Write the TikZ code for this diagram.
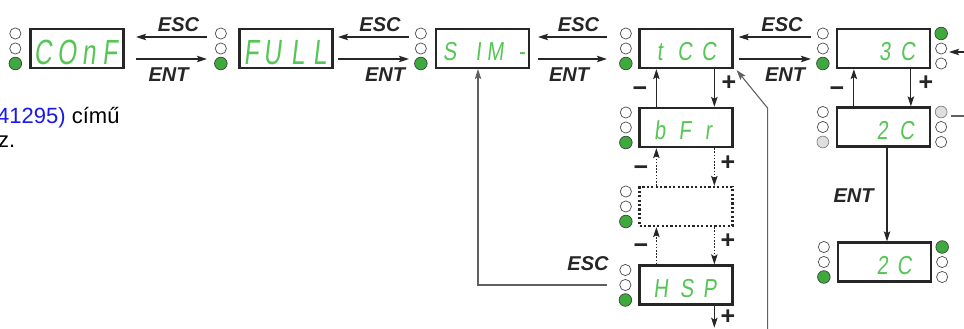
\documentclass[tikz,border=0pt]{standalone}
\usepackage{fontspec}
\setmainfont{Liberation Sans}
\newfontfamily\segfont[FakeSlant=0.12,FakeStretch=0.78]{Liberation Sans}
\newfontfamily\segfontL[FakeSlant=0.12,FakeStretch=0.7]{Liberation Sans}
\usetikzlibrary{arrows.meta,calc}
\definecolor{segg}{RGB}{84,198,84}
\definecolor{ledg}{RGB}{62,170,62}
\definecolor{boxc}{RGB}{38,38,38}
\definecolor{linkc}{RGB}{25,25,235}
\definecolor{greyl}{RGB}{96,96,96}
\newcommand\sgat[2]{\makebox[0pt][l]{\hspace{#1}\makebox[0pt][c]{#2}}}
\newcommand\ledcol[5]{%
  \path[#3] ($(#1)+(#2,-15)$) circle;
  \path[#4] ($(#1)+(#2,0)$) circle;
  \path[#5] ($(#1)+(#2,15)$) circle;}
\begin{document}
\begin{tikzpicture}[x=1pt,y=-1pt,
  disp/.style={draw=boxc, line width=2.3pt, minimum width=93pt, minimum height=39pt, inner sep=0pt},
  dotbox/.style={dash pattern=on 2.2pt off 2.2pt},
  segS/.style={text=segg, font=\segfont\fontsize{26}{26}\selectfont, inner sep=0pt, anchor=base west},
  segL/.style={text=segg, font=\segfontL\fontsize{35}{35}\selectfont, inner sep=0pt, anchor=base west},
  lbl/.style={font=\bfseries\itshape\fontsize{20}{20}\selectfont, text=boxc, inner sep=0pt},
  pm/.style={font=\bfseries\fontsize{25}{25}\selectfont, text=boxc, inner sep=0pt},
  arr/.style={draw=boxc, line width=1.1pt, -{Stealth[length=10pt,width=6.5pt,inset=2pt]}},
  darr/.style={arr, dash pattern=on 1.6pt off 1.6pt},
  garr/.style={arr, draw=greyl},
  gline/.style={draw=greyl, line width=1.1pt},
  ledoff/.style={draw=black!70, fill=white, line width=0.7pt, radius=5.6pt},
  ledon/.style={draw=black!75, fill=ledg, line width=0.7pt, radius=6.3pt},
  ledgray/.style={draw=black!50, fill=black!13, line width=0.7pt, radius=5.9pt},
  txt/.style={anchor=base west, inner sep=0pt, font=\fontsize{22}{24}\selectfont}]
\clip (0,0) rectangle (964,329);

% left text
\node[txt] (txt1) at (-3,123) {\textcolor{linkc}{41295)} című};
\node[txt] (txt2) at (-2,147) {z.};

% display boxes
\node[disp] (CONF) at (77,48.5) {};
\node[disp] (FULL) at (286,48.5) {};
\node[disp] (SIM) at (482.5,48.5) {};
\node[disp] (TCC) at (686,48.5) {};
\node[disp] (C3) at (883.5,48.5) {};
\node[disp] (C2a) at (883.5,127) {};
\node[disp] (BFR) at (686,127.5) {};
\node[disp,dotbox] (DOT) at (686,206.5) {};
\node[disp] (HSP) at (686,285) {};
\node[disp] (C2b) at (884.5,262) {};

% display texts
\node[segL] (tCONF) at ($(CONF.center)+(0,16.5)$) {\sgat{-35pt}{C}\sgat{-11pt}{O}\sgat{11pt}{n}\sgat{32pt}{F}};
\node[segL] (tFULL) at ($(FULL.center)+(0,16.5)$) {\sgat{-35.5pt}{F}\sgat{-14.5pt}{U}\sgat{11pt}{L}\sgat{33pt}{L}};
\node[segS] (tSIM) at ($(SIM.center)+(0,12)$) {\sgat{-33.5pt}{S}\sgat{-5pt}{I}\sgat{12pt}{M}\sgat{38.5pt}{-}};
\node[segS] (tTCC) at ($(TCC.center)+(0,12)$) {\sgat{-27pt}{t}\sgat{-2pt}{C}\sgat{22pt}{C}};
\node[segS] (tC3) at ($(C3.center)+(0,12)$) {\sgat{0.5pt}{3}\sgat{23.5pt}{C}};
\node[segS] (tC2a) at ($(C2a.center)+(0,12)$) {\sgat{-2pt}{2}\sgat{22.5pt}{C}};
\node[segS] (tBFR) at ($(BFR.center)+(0,12)$) {\sgat{-27pt}{b}\sgat{-2pt}{F}\sgat{21.5pt}{r}};
\node[segS] (tHSP) at ($(HSP.center)+(0,12)$) {\sgat{-26pt}{H}\sgat{0pt}{S}\sgat{23pt}{P}};
\node[segS] (tC2b) at ($(C2b.center)+(0,12)$) {\sgat{-3pt}{2}\sgat{19pt}{C}};

% LEDs
\ledcol{CONF.west}{-14}{ledoff}{ledoff}{ledon}
\ledcol{FULL.west}{-17.5}{ledoff}{ledoff}{ledon}
\ledcol{SIM.west}{-14}{ledoff}{ledoff}{ledon}
\ledcol{TCC.west}{-12.5}{ledoff}{ledoff}{ledon}
\ledcol{C3.west}{-13}{ledoff}{ledoff}{ledon}
\ledcol{C3.east}{10}{ledon}{ledoff}{ledoff}
\ledcol{C2a.west}{-13}{ledoff}{ledoff}{ledgray}
\ledcol{C2a.east}{10}{ledgray}{ledoff}{ledoff}
\ledcol{BFR.west}{-12.5}{ledoff}{ledoff}{ledon}
\ledcol{DOT.west}{-12.5}{ledoff}{ledoff}{ledon}
\ledcol{HSP.west}{-13}{ledoff}{ledoff}{ledon}
\ledcol{C2b.west}{-13}{ledoff}{ledoff}{ledon}
\ledcol{C2b.east}{10}{ledon}{ledoff}{ledoff}

% horizontal ESC / ENT arrows
\draw[arr] ($(FULL.west)+(-31.5,-11.5)$) -- ($(CONF.east)+(11.5,-11.5)$);
\draw[arr] ($(CONF.east)+(11.5,10.5)$) -- ($(FULL.west)+(-31.5,10.5)$);
\draw[arr] ($(SIM.west)+(-26,-11.5)$) -- ($(FULL.east)+(4.5,-11.5)$);
\draw[arr] ($(FULL.east)+(4.5,10.5)$) -- ($(SIM.west)+(-26,10.5)$);
\draw[arr] ($(TCC.west)+(-31.5,-11.5)$) -- ($(SIM.east)+(8,-11.5)$);
\draw[arr] ($(SIM.east)+(8,10.5)$) -- ($(TCC.west)+(-31.5,10.5)$);
\draw[arr] ($(C3.west)+(-25,-11.5)$) -- ($(TCC.east)+(5,-11.5)$);
\draw[arr] ($(TCC.east)+(5,10.5)$) -- ($(C3.west)+(-25,10.5)$);

\node[lbl] (esc1) at (178.5,25) {ESC};
\node[lbl] (ent1) at (168.5,75) {ENT};
\node[lbl] (esc2) at (380,24.5) {ESC};
\node[lbl] (ent2) at (385,75) {ENT};
\node[lbl] (esc3) at (578.5,24.5) {ESC};
\node[lbl] (ent3) at (569,75) {ENT};
\node[lbl] (esc4) at (782,24.5) {ESC};
\node[lbl] (ent4) at (785,75) {ENT};
\node[lbl] (ent5) at (853.5,196) {ENT};
\node[lbl] (esc5) at (588,263.5) {ESC};

% vertical arrows, tCC column
\draw[arr] ($(BFR.north west)+(18,0)$) -- ($(TCC.south west)+(18,0)$);
\draw[arr] ($(TCC.south west)+(76,0)$) -- ($(BFR.north west)+(76,0)$);
\draw[darr] ($(DOT.north west)+(18,0)$) -- ($(BFR.south west)+(18,0)$);
\draw[darr] ($(BFR.south west)+(76,0)$) -- ($(DOT.north west)+(76,0)$);
\draw[darr] ($(HSP.north west)+(18,0)$) -- ($(DOT.south west)+(18,0)$);
\draw[darr] ($(DOT.south west)+(76,0)$) -- ($(HSP.north west)+(76,0)$);
\coordinate (hb) at ($(HSP.south west)+(76,22)$);
\draw[arr] ($(HSP.south west)+(76,0)$) -- (hb);

\node[pm] (m1) at (640,92) {−};
\node[pm] (p1) at (729,83) {+};
\node[pm] (m2) at (641,171) {−};
\node[pm] (p2) at (728,163) {+};
\node[pm] (m3) at (641,249) {−};
\node[pm] (p3) at (728,241) {+};
\node[pm] (p4) at (728,317) {+};

% 3C column
\draw[arr] ($(C2a.north west)+(18,0)$) -- ($(C3.south west)+(18,0)$);
\draw[arr] ($(C3.south west)+(75,0)$) -- ($(C2a.north west)+(75,0)$);
\node[pm] (m4) at (837,92) {−};
\node[pm] (p5) at (926,83) {+};
\coordinate (e1) at ($(C2a.south)+(3.5,0)$);
\draw[arr] (e1) -- (e1 |- C2b.north);

% right side connectors
\coordinate (ra) at ($(C3.east)+(34.5,3.5)$);
\draw[arr] (ra) -- ($(C3.east)+(18,3.5)$);
\coordinate (rb) at ($(C2a.east)+(20,-11)$);
\draw[gline] (rb) -- ($(C2a.east)+(34.5,-11)$);

% return line HSP -> SIM
\coordinate (r1) at ($(HSP.west)+(-31,0)$);
\coordinate (r2) at ($(SIM.south)+(-4.5,0)$);
\draw[garr] (r1) -| (r2);

% line to tCC corner
\coordinate (k2) at ($(TCC.south east)+(34,39)$);
\coordinate (k1) at ($(k2)+(0,222)$);
\draw[garr] (k1) -- (k2) -- ($(TCC.south east)+(3,1)$);
\end{tikzpicture}
\end{document}
